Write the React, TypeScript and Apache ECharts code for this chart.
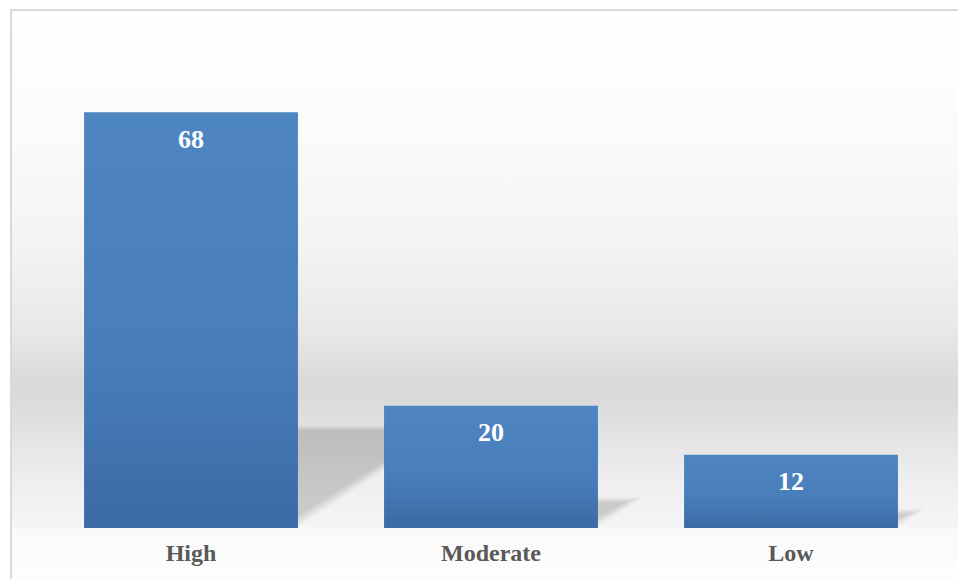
import React, { useEffect, useRef } from "react";
import * as echarts from "echarts";

const categories: string[] = ["High", "Moderate", "Low"];
const values: number[] = [68, 20, 12];
const yMax = 80;

const BAR_FRAC = 0.713;

export default function App() {
  const ref = useRef<HTMLDivElement>(null);

  useEffect(() => {
    if (!ref.current) return;
    const chart = echarts.init(ref.current, undefined, { renderer: "svg" });
    const serif = "'Liberation Serif', 'Times New Roman', serif";
    chart.setOption({
      animation: false,
      backgroundColor: "transparent",
      grid: { left: 29, right: 21, top: 28, bottom: 53, containLabel: false },
      xAxis: {
        type: "category",
        data: categories,
        axisLine: { show: false },
        axisTick: { show: false },
        splitLine: { show: false },
        axisLabel: {
          color: "#595959",
          fontFamily: serif,
          fontWeight: "bold",
          fontSize: 24,
          margin: 13,
        },
      },
      yAxis: {
        type: "value",
        min: 0,
        max: yMax,
        show: false,
        splitLine: { show: false },
      },
      series: [
        {
          type: "custom",
          z: 1,
          silent: true,
          encode: { x: 0, y: 1 },
          data: values.map((v, i) => [i, v]),
          renderItem: (params: any, api: any) => {
            const idx = api.value(0);
            const val = api.value(1);
            const base = api.coord([idx, 0]);
            const top = api.coord([idx, val]);
            const band = api.size([1, 0])[0];
            const w = band * BAR_FRAC;
            const x0 = base[0] - w / 2;
            const x1 = base[0] + w / 2;
            const by = base[1] - 1;
            const h = base[1] - top[1];
            const s = h * 0.245;
            const dx = s * 1.5;
            const layers = 7;
            const children = [];
            for (let k = 0; k < layers; k++) {
              const sh = k * 3;
              const tv = k * 0.9;
              children.push({
                type: "polygon",
                shape: {
                  points: [
                    [x0, by],
                    [x1 - sh, by],
                    [x1 + dx - sh, by - s + tv],
                    [x0 + dx, by - s + tv],
                  ],
                },
                style: { fill: "rgba(0,0,0,0.024)" },
              });
            }
            return { type: "group", children };
          },
        },
        {
          type: "bar",
          z: 2,
          data: values,
          barWidth: BAR_FRAC * 100 + "%",
          itemStyle: {
            color: new echarts.graphic.LinearGradient(0, 0, 0, 1, [
              { offset: 0, color: "#4e86c1" },
              { offset: 0.6, color: "#487dba" },
              { offset: 1, color: "#3b6aa5" },
            ]),
          },
          label: {
            show: true,
            position: "insideTop",
            distance: 14,
            color: "#ffffff",
            fontFamily: serif,
            fontWeight: "bold",
            fontSize: 26,
          },
        },
      ],
    });
    return () => chart.dispose();
  }, []);

  return (
    <div
      style={{
        position: "fixed",
        left: 0,
        top: 0,
        width: 958,
        height: 579,
        overflow: "hidden",
        background: "#ffffff",
      }}
    >
      <div
        style={{
          position: "absolute",
          left: 10,
          top: 9,
          width: 950,
          height: 570,
          borderLeft: "2px solid #dadada",
          borderTop: "2px solid #dadada",
          background:
            "linear-gradient(to bottom, #ffffff 0%, #fbfbfb 21%, #f3f3f3 42%, #e8e8e8 56%, #d9d9d9 65.5%, #dadada 68%, #e2e2e2 73.5%, #eeeeee 82.3%, #f5f5f5 90.4%, #fafafa 91%, #fdfdfd 100%)",
        }}
      >
        <div ref={ref} style={{ position: "absolute", left: 0, top: 0, width: 950, height: 570 }} />
      </div>
    </div>
  );
}
